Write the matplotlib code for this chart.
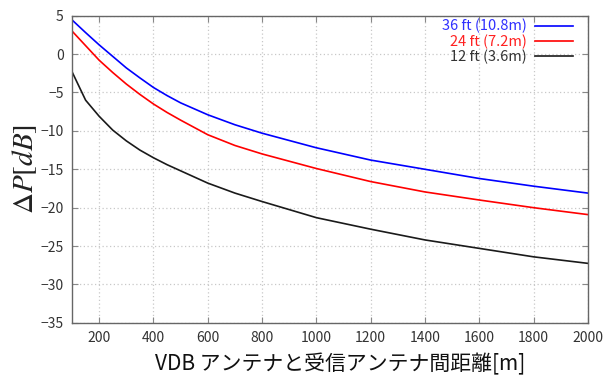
import matplotlib
matplotlib.use("Agg")
import matplotlib.pyplot as plt

plt.rcParams['font.family'] = ['Noto Sans CJK JP', 'DejaVu Sans']
plt.rcParams['mathtext.fontset'] = 'stix'

distance = [100, 150, 200, 250, 300, 350, 400, 450, 500, 600, 700, 800, 1000, 1200, 1400, 1600, 1800, 2000]
dp_36ft = [4.45, 2.8, 1.2, -0.3, -1.8, -3.1, -4.35, -5.4, -6.35, -7.9, -9.2, -10.3, -12.2, -13.8, -15.0, -16.2, -17.2, -18.1]
dp_24ft = [3.0, 1.1, -0.8, -2.4, -3.9, -5.25, -6.5, -7.6, -8.6, -10.5, -11.9, -13.0, -14.9, -16.6, -17.95, -19.0, -20.0, -20.9]
dp_12ft = [-2.3, -6.0, -8.1, -9.9, -11.3, -12.5, -13.5, -14.4, -15.2, -16.8, -18.1, -19.2, -21.3, -22.8, -24.2, -25.3, -26.4, -27.25]
labels = ["36 ft (10.8m)", "24 ft (7.2m)", "12 ft (3.6m)"]
colors = ["#0000ff", "#ff0000", "#1a1a1a"]
xticks = [200, 400, 600, 800, 1000, 1200, 1400, 1600, 1800, 2000]
yticks = [5, 0, -5, -10, -15, -20, -25, -30, -35]

fig = plt.figure(figsize=(6.13, 3.83), dpi=100)
ax = fig.add_axes([0.1175, 0.157, 0.8415, 0.802])

for ys, lab, c in zip([dp_36ft, dp_24ft, dp_12ft], labels, colors):
    ax.plot(distance, ys, color=c, lw=1.2, label=lab)

ax.set_xlim(100, 2000)
ax.set_ylim(-35, 5)
ax.set_xticks(xticks)
ax.set_yticks(yticks)
ax.grid(True, color='#c8c8c8', linestyle=(0, (1, 2)), linewidth=0.9)
ax.tick_params(direction='in', top=True, right=True, length=4, width=0.8,
               colors='#888888', labelcolor='#333333', labelsize=10, pad=6)
for s in ax.spines.values():
    s.set_color('#666666')
    s.set_linewidth(1.0)

leg = ax.legend(loc='upper right', frameon=False, markerfirst=False, fontsize=10.5,
                handlelength=2.6, handletextpad=0.6, labelspacing=0.05,
                borderaxespad=0.0, bbox_to_anchor=(0.983, 1.008),
                labelcolor=['#3030ff', '#ff2020', '#333333'])

ax.set_xlabel("VDB アンテナと受信アンテナ間距離[m]", fontsize=15, color='#111111', va='center')
ax.xaxis.set_label_coords(0.519, -0.136)
ax.set_ylabel(r"$\Delta P[dB]$", fontsize=21, color='#222222', labelpad=0)

fig.savefig("out.png", dpi=100)
